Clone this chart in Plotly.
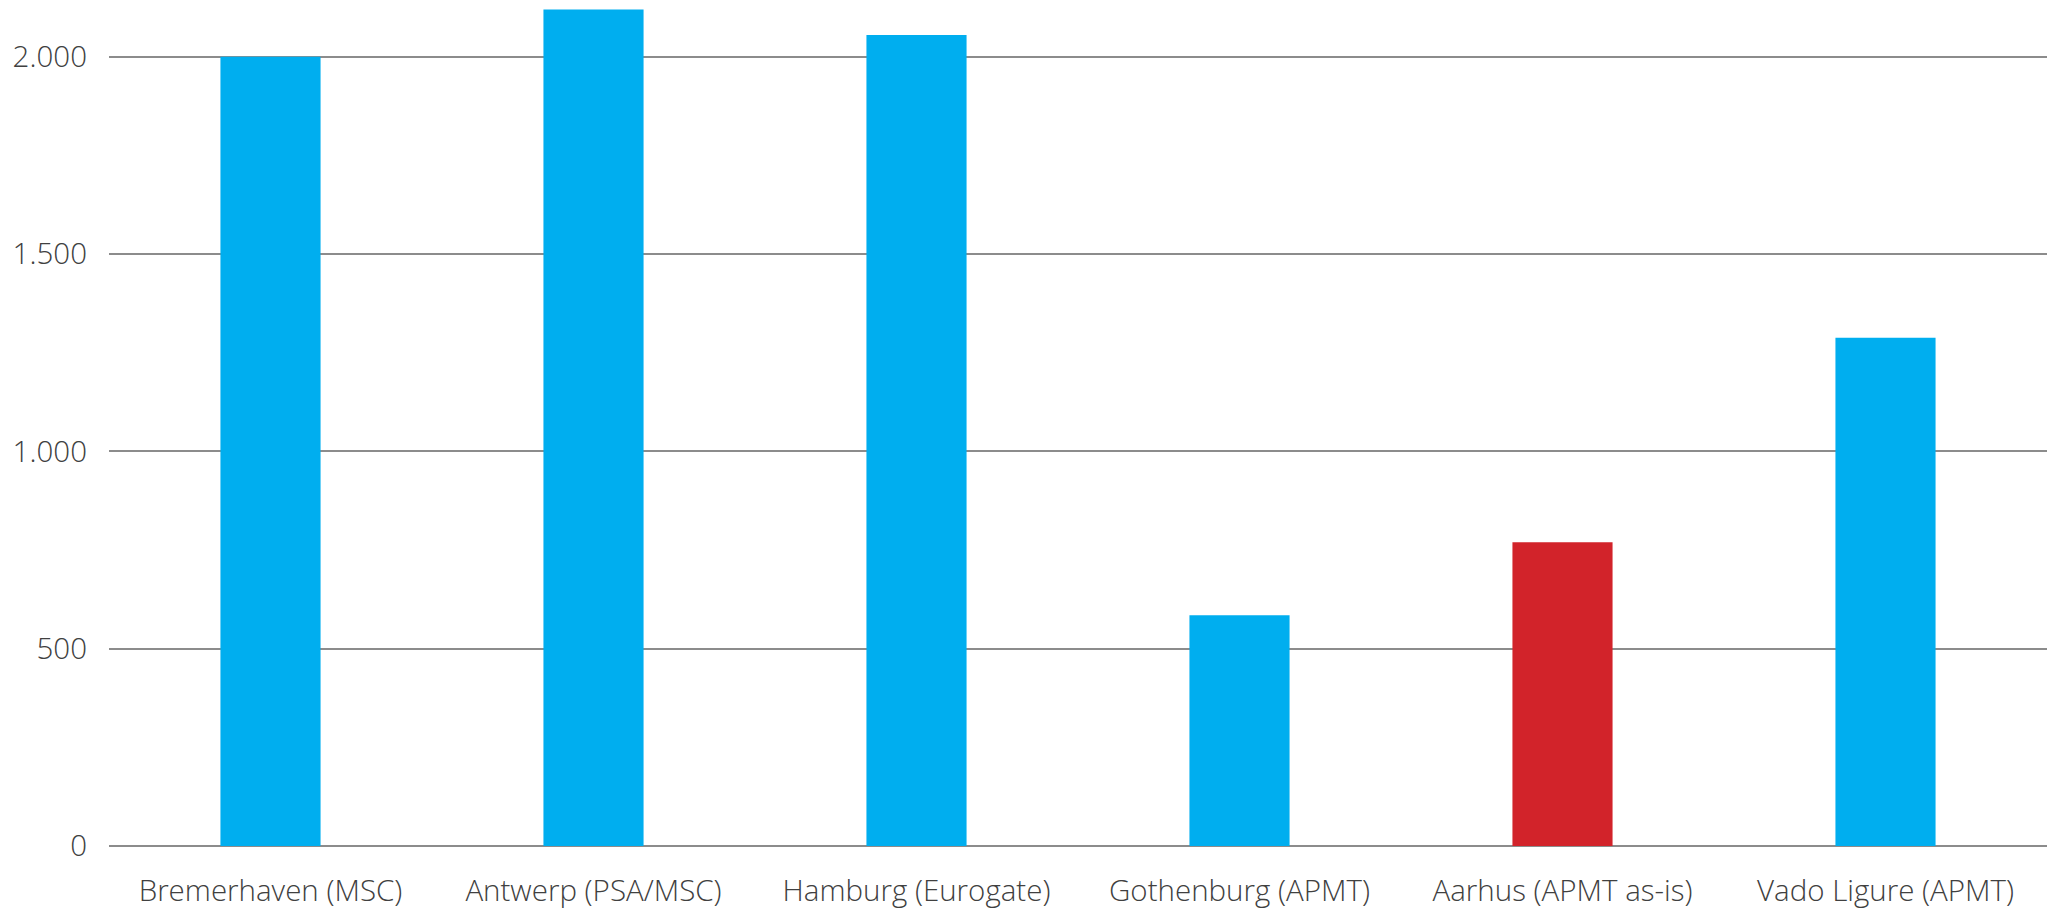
import plotly.graph_objects as go

categories = ["Bremerhaven (MSC)", "Antwerp (PSA/MSC)", "Hamburg (Eurogate)",
              "Gothenburg (APMT)", "Aarhus (APMT as-is)", "Vado Ligure (APMT)"]
values = [2000, 2120, 2055, 585, 770, 1288]
colors = ["#00AEEF", "#00AEEF", "#00AEEF", "#00AEEF", "#D2232A", "#00AEEF"]
tick_vals = [0, 500, 1000, 1500, 2000]
tick_text = ["0", "500", "1.000", "1.500", "2.000"]

fig = go.Figure(go.Bar(x=categories, y=values, marker=dict(color=colors, line=dict(width=0))))

font = dict(family="Open Sans", size=29.5, color="#404040", weight=300)
fig.update_layout(
    width=2058, height=914,
    margin=dict(l=109, r=11, t=0, b=68),
    paper_bgcolor="white", plot_bgcolor="white",
    bargap=0.69, showlegend=False, font=font,
)
fig.update_yaxes(range=[0, 2144], tickvals=tick_vals, ticktext=tick_text,
                 showgrid=True, gridcolor="#8c8c8c", gridwidth=1.5,
                 zeroline=True, zerolinecolor="#8c8c8c", zerolinewidth=1.5,
                 showline=False, ticks="", ticklabelstandoff=21, tickfont=font)
fig.update_xaxes(showline=False, ticks="", tickfont=font, ticklabelstandoff=24)

fig.write_html("out.html")
